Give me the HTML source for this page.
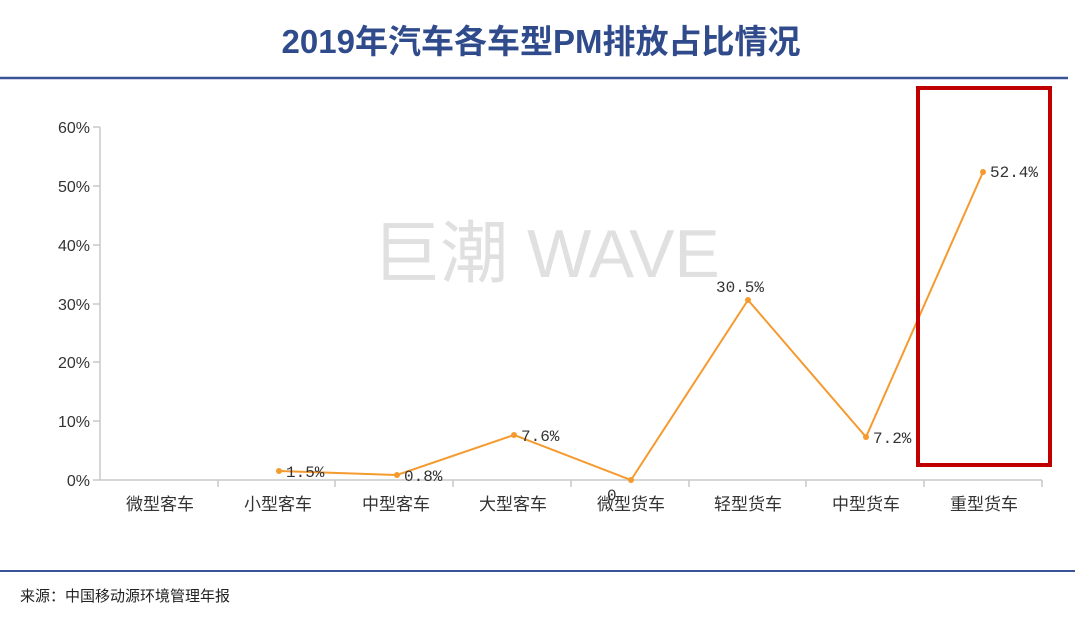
<!DOCTYPE html>
<html><head><meta charset="utf-8"><style>
body{margin:0;background:#fff;}
svg{display:block;font-family:"Liberation Sans","Noto Sans CJK SC",sans-serif;}
</style></head><body>
<svg width="1080" height="620" viewBox="0 0 1080 620">
<text x="541" y="53" text-anchor="middle" font-size="33" font-weight="bold" fill="#2f4b8c">2019年汽车各车型PM排放占比情况</text>
<line x1="0" y1="78" x2="1068" y2="78" stroke="#3a5597" stroke-width="2.5"/>
<text x="546" y="277" text-anchor="middle" font-size="68" fill="#e0e0e0">巨潮 WAVE</text>
<g stroke="#c8c8c8" stroke-width="1.5" fill="none">
<line x1="100" y1="127" x2="100" y2="480"/>
<line x1="100" y1="480" x2="1042" y2="480"/>
<line x1="93" y1="127" x2="100" y2="127"/><line x1="93" y1="186" x2="100" y2="186"/><line x1="93" y1="245" x2="100" y2="245"/><line x1="93" y1="304" x2="100" y2="304"/><line x1="93" y1="362" x2="100" y2="362"/><line x1="93" y1="421" x2="100" y2="421"/><line x1="93" y1="480" x2="100" y2="480"/>
<line x1="218" y1="480" x2="218" y2="487"/><line x1="335" y1="480" x2="335" y2="487"/><line x1="453" y1="480" x2="453" y2="487"/><line x1="571" y1="480" x2="571" y2="487"/><line x1="689" y1="480" x2="689" y2="487"/><line x1="806" y1="480" x2="806" y2="487"/><line x1="924" y1="480" x2="924" y2="487"/><line x1="1042" y1="480" x2="1042" y2="487"/>
</g>
<g font-size="16" fill="#333" text-anchor="end">
<text x="90" y="133">60%</text><text x="90" y="192">50%</text><text x="90" y="251">40%</text><text x="90" y="310">30%</text><text x="90" y="368">20%</text><text x="90" y="427">10%</text><text x="90" y="486">0%</text>
</g>
<g font-size="17" fill="#333" text-anchor="middle">
<text x="160" y="510">微型客车</text><text x="278" y="510">小型客车</text><text x="396" y="510">中型客车</text><text x="513" y="510">大型客车</text><text x="631" y="510">微型货车</text><text x="748" y="510">轻型货车</text><text x="866" y="510">中型货车</text><text x="984" y="510">重型货车</text>
</g>
<polyline points="279,471 397,475 514,435 631,480 748,300 866,437 983,172" fill="none" stroke="#f59a2f" stroke-width="2"/>
<g fill="#f59a2f"><circle cx="279" cy="471" r="3"/><circle cx="397" cy="475" r="3"/><circle cx="514" cy="435" r="3"/><circle cx="631" cy="480" r="3"/><circle cx="748" cy="300" r="3"/><circle cx="866" cy="437" r="3"/><circle cx="983" cy="172" r="3"/></g>
<g font-size="16" fill="#333" font-family="Liberation Mono, monospace">
<text x="286" y="477">1.5%</text><text x="404" y="481">0.8%</text><text x="521" y="441">7.6%</text><text x="607" y="500">0</text><text x="716" y="292">30.5%</text><text x="873" y="443">7.2%</text><text x="990" y="177">52.4%</text>
</g>
<rect x="918" y="88" width="132" height="377" fill="none" stroke="#c00000" stroke-width="4"/>
<line x1="0" y1="571" x2="1075" y2="571" stroke="#3a5597" stroke-width="2"/>
<text x="20" y="601" font-size="15" fill="#222">来源：中国移动源环境管理年报</text>
</svg>
</body></html>
